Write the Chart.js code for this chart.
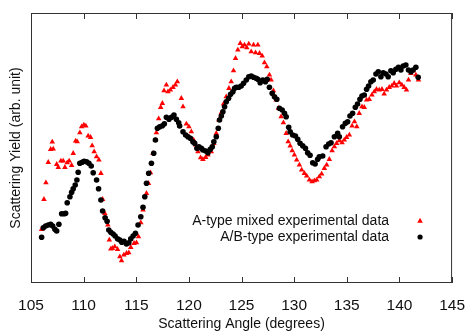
<!DOCTYPE html>
<html>
<head>
<meta charset="utf-8">
<script src="https://cdn.jsdelivr.net/npm/chart.js@4/dist/chart.umd.min.js"></script>
<style>
  html, body { margin: 0; padding: 0; background: #fff; }
  #wrap { width: 470px; height: 331px; }
</style>
</head>
<body>
<div id="wrap"><canvas id="chart"></canvas></div>
<script>
const xTicks = [105, 110, 115, 120, 125, 130, 135, 140, 145];
const seriesLabels = ['A-type mixed experimental data', 'A/B-type experimental data'];

// A-type mixed (red triangles)
const angleA = [106.01, 106.23, 106.42, 106.64, 106.87, 107.02, 107.11, 107.44, 107.59, 107.84,
  108.06, 108.22, 108.44, 108.63, 108.86, 109.01, 109.24, 109.39, 109.64, 109.81,
  110.02, 110.21, 110.43, 110.66, 110.81, 111.00, 111.23, 111.45, 111.64, 111.80,
  112.01, 112.3, 112.44, 112.58, 112.73, 112.96, 113.22, 113.44, 113.60, 113.82,
  114.07, 114.29, 114.48, 114.79, 115.02, 115.21, 115.43, 115.64, 115.97, 116.16,
  116.35, 116.59, 116.82, 116.91, 117.13, 117.32, 117.48, 117.64, 117.86, 118.01,
  118.24, 118.49, 118.72, 118.90, 119.28, 119.44, 119.76, 120.00, 120.23, 120.45,
  120.64, 120.86, 121.11, 121.33, 121.59, 121.81, 122.13, 122.37, 122.60, 122.85,
  123.08, 123.29, 123.55, 123.80, 124.02, 124.24, 124.43, 124.65, 124.88, 125.07,
  125.28, 125.50, 125.69, 125.92, 126.14, 126.33, 126.55, 126.71, 126.96, 127.18,
  127.40, 127.65, 127.81, 128.03, 128.29, 128.51, 128.76, 128.98, 129.24, 129.43,
  129.62, 129.81, 130.02, 130.24, 130.50, 130.71, 130.97, 131.19, 131.45, 131.70,
  131.92, 132.14, 132.39, 132.61, 132.87, 133.09, 133.34, 133.60, 133.82, 134.03,
  134.29, 134.55, 134.76, 134.98, 135.24, 135.50, 135.73, 135.95, 136.18, 136.44,
  136.66, 136.88, 137.13, 137.39, 137.61, 137.82, 138.08, 138.34, 138.55, 138.77,
  139.03, 139.28, 139.50, 139.72, 139.98, 140.23, 140.45, 140.67, 140.86, 141.09,
  141.30, 141.56, 141.81];
const yieldA = [53.7, 83.7, 100.3, 120.7, 133.7, 141, 134, 118.7, 115.7, 122,
  122, 115.7, 120.3, 122, 117.7, 129.7, 142, 141.3, 150.3, 156.3,
  158, 157, 147, 145.7, 137.3, 131.3, 126.3, 123, 109.7, 83.7,
  69.7, 58, 43, 34, 34.7, 36.3, 33.7, 26.3, 22.3, 28,
  29.7, 30.3, 35.7, 39.7, 40.3, 46.3, 60.3, 73, 89.7, 99.7,
  110.3, 129.7, 143, 150.3, 164.3, 175.7, 179.7, 192.3, 198, 191.3,
  193, 195.7, 198, 201.3, 184.7, 176.3, 159, 156.3, 151.3, 143,
  138, 131.3, 125.3, 123.7, 125.7, 128, 131.3, 139.7, 149.7, 163,
  170.3, 179, 186.3, 194.7, 201.3, 212.3, 224.7, 233, 239.7, 236.3,
  238, 235.3, 239, 231.3, 238, 230.3, 238, 229.7, 227, 220.3,
  216.3, 208, 203, 192.3, 183, 174.7, 166.3, 160.3, 149.7, 141.3,
  137, 132.3, 128, 123, 118, 113, 109.7, 107, 103, 101.3,
  102.3, 103, 106.3, 109, 114.7, 118, 123.7, 132.3, 136.3, 139.7,
  142.3, 140.3, 143, 145.7, 148, 157, 161.3, 156.3, 169.7, 176.3,
  175.7, 183, 183.7, 188, 191.3, 193.7, 193, 193.7, 189, 193,
  195.7, 197, 199.7, 197, 200.3, 198, 195.7, 193, 203, 209.7,
  212.3, 208, 203];

// A/B-type (black circles)
const angleB = [106.01, 106.17, 106.39, 106.64, 106.87, 107.06, 107.27, 107.44, 107.65, 107.91,
  108.16, 108.29, 108.44, 108.70, 108.86, 109.01, 109.20, 109.36, 109.48, 109.64,
  109.86, 110.05, 110.28, 110.50, 110.72, 110.91, 111.23, 111.42, 111.64, 111.80,
  112.04, 112.23, 112.39, 112.58, 112.80, 112.99, 113.22, 113.44, 113.63, 113.84,
  114.07, 114.29, 114.48, 114.70, 114.92, 115.17, 115.43, 115.64, 115.81, 115.97,
  116.18, 116.44, 116.66, 116.82, 117.01, 117.23, 117.48, 117.67, 117.86, 118.11,
  118.34, 118.58, 118.81, 119.03, 119.12, 119.44, 119.69, 119.91, 120.14, 120.38,
  120.55, 120.76, 120.95, 121.18, 121.33, 121.59, 121.81, 122.03, 122.22, 122.37,
  122.60, 122.79, 122.91, 123.08, 123.23, 123.39, 123.55, 123.77, 123.96, 124.18,
  124.34, 124.50, 124.74, 124.97, 125.19, 125.45, 125.69, 125.92, 126.14, 126.39,
  126.55, 126.77, 127.02, 127.27, 127.44, 127.65, 127.91, 128.13, 128.35, 128.60,
  128.86, 129.08, 129.24, 129.48, 129.62, 129.86, 130.12, 130.34, 130.56, 130.81,
  131.07, 131.28, 131.51, 131.76, 131.99, 132.23, 132.39, 132.71, 133.03, 133.28,
  133.50, 133.82, 134.13, 134.29, 134.60, 134.86, 135.08, 135.30, 135.55, 135.81,
  136.02, 136.25, 136.44, 136.66, 136.88, 137.07, 137.29, 137.51, 137.77, 137.99,
  138.24, 138.46, 138.72, 138.93, 139.19, 139.41, 139.66, 139.91, 140.14, 140.36,
  140.61, 140.86, 141.09, 141.30, 141.56, 141.78];
const yieldB = [45.7, 55.3, 57, 58, 58.7, 57, 53.7, 52, 58.7, 69.3,
  69.3, 69.7, 80.3, 86.3, 90.7, 94.3, 98, 103, 110.7, 119.7,
  120.7, 121.7, 121.3, 119.7, 117, 110.3, 103, 94.3, 83, 72,
  65.3, 61.7, 53, 50.7, 49, 47, 44.3, 43, 40.7, 41.7,
  39, 40.3, 44.3, 47, 49.7, 58, 66.3, 75.7, 86.3, 99.7,
  109.7, 119.7, 129.7, 143, 154.7, 156.3, 157.3, 159.3, 165.7, 163.7,
  165.7, 168, 163.7, 160.3, 157, 151.3, 148, 146.3, 144.7, 141.3,
  139.7, 134.7, 136.3, 134.7, 133, 132, 130.3, 133.7, 136.3, 141.3,
  146.3, 154.7, 163, 167, 171.3, 176.3, 181.3, 184.7, 188.7, 191.3,
  194.7, 195.7, 195.7, 197, 199.7, 203, 206.3, 207, 205.7, 204.7,
  203.7, 200.3, 203, 201.3, 203.7, 195.7, 189.7, 186.3, 183.7, 174.7,
  173, 169.7, 166.3, 155.7, 151.3, 148, 147, 143.7, 139.7, 137.3,
  134.7, 130.3, 127.7, 120.3, 119, 123.7, 126.3, 127, 136.3, 139,
  140.3, 146.3, 149.7, 146.3, 156.3, 159.7, 161.3, 167, 169.7, 175.7,
  179, 183.7, 187, 188, 193.7, 197, 201.3, 203, 209, 211.3,
  206.3, 210.3, 209, 206.3, 212.3, 210.3, 213.7, 215.7, 213, 217,
  218, 213, 211.3, 213, 215.7, 205.7];

const toPoints = (xs, ys) => xs.map((x, i) => ({ x: x, y: ys[i] }));
const FONT = '"Liberation Sans", Arial, Helvetica, sans-serif';

// frame, inward ticks on top/bottom, and the in-plot legend
const framePlugin = {
  id: 'frame',
  afterDraw(chart) {
    const { ctx, chartArea: a, scales } = chart;
    ctx.save();
    ctx.strokeStyle = '#333';
    ctx.lineWidth = 1;
    ctx.strokeRect(a.left + 0.5, a.top + 0.5, a.right - a.left - 1, a.bottom - a.top - 1);
    ctx.beginPath();
    xTicks.forEach(v => {
      const px = Math.round(scales.x.getPixelForValue(v)) + 0.5;
      ctx.moveTo(px, a.bottom); ctx.lineTo(px, a.bottom - 6);
      ctx.moveTo(px, a.top); ctx.lineTo(px, a.top + 6);
    });
    ctx.stroke();

    // legend
    ctx.font = '14px ' + FONT;
    ctx.textAlign = 'right';
    ctx.textBaseline = 'middle';
    const tx = a.right - 63, mx = a.right - 32;
    const rows = [a.top + 208, a.top + 224];
    chart.data.datasets.forEach(ds => {
      const y = rows[ds.legendRow];
      ctx.fillStyle = '#111';
      ctx.fillText(ds.label, tx, y);
      ctx.fillStyle = ds.backgroundColor;
      ctx.beginPath();
      if (ds.pointStyle === 'triangle') {
        ctx.moveTo(mx, y - 3.2); ctx.lineTo(mx + 2.8, y + 1.8); ctx.lineTo(mx - 2.8, y + 1.8);
        ctx.closePath();
      } else {
        ctx.arc(mx, y, 2.6, 0, Math.PI * 2);
      }
      ctx.fill();
    });
    ctx.restore();
  }
};

new Chart(document.getElementById('chart'), {
  type: 'scatter',
  data: {
    datasets: [
      {
        label: seriesLabels[1],
        legendRow: 1,
        data: toPoints(angleB, yieldB),
        pointStyle: 'circle',
        pointRadius: 2.8,
        backgroundColor: '#000',
        borderWidth: 0,
        order: 0
      },
      {
        label: seriesLabels[0],
        legendRow: 0,
        data: toPoints(angleA, yieldA),
        pointStyle: 'triangle',
        pointRadius: 3.2,
        backgroundColor: '#f00',
        borderWidth: 0,
        order: 1
      }
    ]
  },
  options: {
    responsive: true,
    maintainAspectRatio: false,
    animation: false,
    events: [],
    layout: { padding: { top: 13, right: 17, left: 0, bottom: 0 } },
    scales: {
      x: {
        type: 'linear',
        min: 105,
        max: 145,
        afterBuildTicks: s => { s.ticks = xTicks.map(v => ({ value: v })); },
        afterFit: s => { s.height = 48; },
        grid: { display: false },
        border: { display: false },
        ticks: {
          autoSkip: false,
          maxRotation: 0,
          padding: 5,
          color: '#111',
          font: { family: FONT, size: 15.5 }
        },
        title: {
          display: true,
          text: 'Scattering Angle (degrees)',
          color: '#111',
          font: { family: FONT, size: 14, lineHeight: 1 },
          padding: { top: 0, bottom: 0 }
        }
      },
      y: {
        min: 0,
        max: 270,
        afterFit: s => { s.width = 31; },
        grid: { display: false },
        border: { display: false },
        ticks: { display: false },
        title: {
          display: true,
          text: 'Scattering Yield (arb. unit)',
          color: '#111',
          font: { family: FONT, size: 14 },
          padding: { top: 8, bottom: 0 }
        }
      }
    },
    plugins: {
      legend: { display: false },
      tooltip: { enabled: false }
    }
  },
  plugins: [framePlugin]
});
</script>
</body>
</html>
